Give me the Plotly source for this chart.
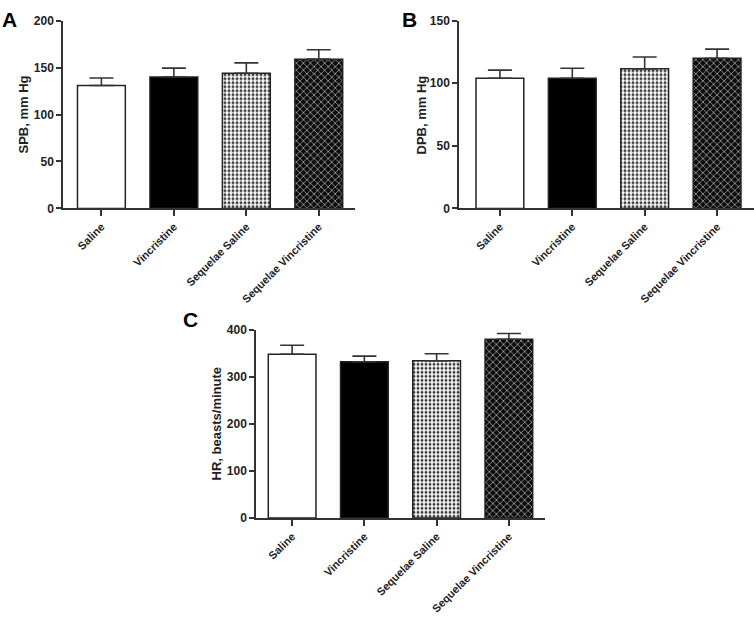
import plotly.graph_objects as go

categories = ["Saline", "Vincristine", "Sequelae Saline", "Sequelae Vincristine"]

spb_values = [131, 140, 144, 159]
spb_errors = [8, 9.5, 11, 10]

dpb_values = [104, 104, 111.5, 120]
dpb_errors = [6.5, 8, 9.5, 7.3]

hr_values = [349, 333, 335, 381]
hr_errors = [19, 12, 15, 12]

fill_colors = ["white", "black", "white", "#0d0d0d"]
pattern_shapes = ["", "", ".", "x"]
pattern_fg = ["#000000", "#000000", "#3a3a3a", "#f0f0f0"]
pattern_size = [6, 6, 4, 5]
pattern_solid = [0.3, 0.3, 0.45, 0.2]

FONT = "Liberation Sans, Arial, sans-serif"
DARK = "#222222"

fig = go.Figure()

panels = [
    ("x", "y", spb_values, spb_errors),
    ("x2", "y2", dpb_values, dpb_errors),
    ("x3", "y3", hr_values, hr_errors),
]

for xa, ya, vals, errs in panels:
    for i, cat in enumerate(categories):
        fig.add_trace(go.Bar(
            x=[cat], y=[vals[i]], xaxis=xa, yaxis=ya, width=0.66,
            marker=dict(
                color=fill_colors[i],
                line=dict(color=DARK, width=1.5),
                pattern=dict(shape=pattern_shapes[i], fgcolor=pattern_fg[i],
                             bgcolor=fill_colors[i], size=pattern_size[i],
                             solidity=pattern_solid[i], fillmode="replace"),
            ),
            error_y=dict(type="data", array=[errs[i]], arrayminus=[0],
                         symmetric=False, color="#333", thickness=1.6, width=12),
            showlegend=False,
        ))

W, H = 754, 624

def px(x):
    return x / W

def py(y):
    return 1 - y / H

xcommon = dict(showline=True, linecolor="#333", linewidth=1.5, ticks="outside",
               ticklen=6, tickcolor="#333", tickwidth=1.5, tickangle=-45,
               tickfont=dict(family=FONT, size=11, color=DARK, weight="bold"),
               showgrid=False, zeroline=False, fixedrange=True,
               categoryorder="array", categoryarray=categories)
ycommon = dict(showline=True, linecolor="#333", linewidth=1.5, ticks="outside",
               ticklen=5, tickcolor="#333", tickwidth=1.5,
               tickfont=dict(family=FONT, size=12, color=DARK, weight="bold"),
               showgrid=False, zeroline=False, fixedrange=True)

fig.update_layout(
    width=W, height=H,
    margin=dict(l=0, r=0, t=0, b=0),
    paper_bgcolor="white", plot_bgcolor="white",
    barmode="overlay",
    xaxis=dict(domain=[px(63), px(355)], range=[-0.53, 3.5], anchor="y", **xcommon),
    yaxis=dict(domain=[py(206), py(14)], range=[0, 200], dtick=50, anchor="x", **ycommon),
    xaxis2=dict(domain=[px(459), 1.0], range=[-0.565, 3.51], anchor="y2", **xcommon),
    yaxis2=dict(domain=[py(206), py(14)], range=[0, 150], dtick=50, anchor="x2", **ycommon),
    xaxis3=dict(domain=[px(256), px(545)], range=[-0.5, 3.5], anchor="y3", **xcommon),
    yaxis3=dict(domain=[py(522.7), py(330.7)], range=[0, 400], dtick=100, anchor="x3", **ycommon),
)

def letter(text, x, y):
    fig.add_annotation(text=f"<b>{text}</b>", x=px(x), y=py(y), xref="paper", yref="paper",
                       showarrow=False, font=dict(family=FONT, size=21, color="black"),
                       xanchor="center", yanchor="middle")

def ytitle(text, x, y):
    fig.add_annotation(text=text, x=px(x), y=py(y), xref="paper", yref="paper",
                       showarrow=False, textangle=-90,
                       font=dict(family=FONT, size=13, color=DARK),
                       xanchor="center", yanchor="middle")

letter("A", 9, 13)
letter("B", 409, 13)
letter("C", 190, 320)
ytitle("<b>SPB, mm Hg</b>", 24, 110)
ytitle("<b>DPB, mm Hg</b>", 422, 111)
ytitle("<b>HR, beasts/minute</b>", 216, 427)

fig.write_html("out.html", config={"displayModeBar": False},
               post_script="document.body.style.margin='0';document.body.style.overflow='hidden';")
